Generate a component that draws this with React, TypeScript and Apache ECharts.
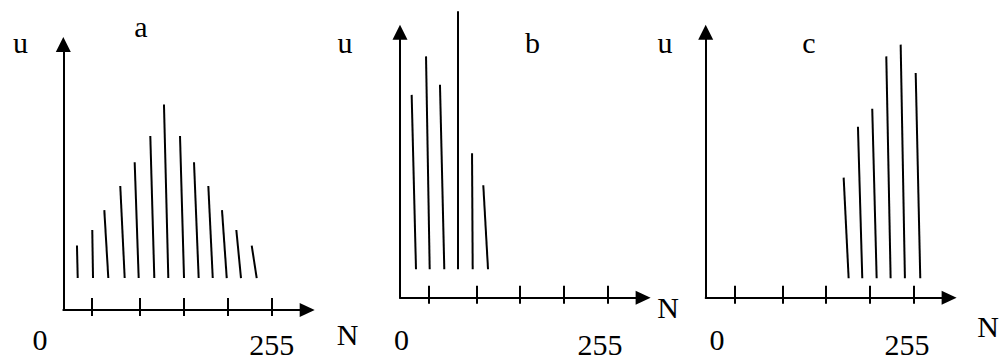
import React, { useEffect, useRef } from "react";
import * as echarts from "echarts";

// Histogram sketches of code value N (0..255) against level u.
// Every stroke runs from a base level up to its peak; the strokes lean slightly,
// so each one keeps its own N at the base and at the peak.

// Panel a: symmetric spread around mid-range
const aNBase = [17.6, 36.3, 55.0, 75.0, 92.1, 111.2, 128.3, 147.5, 165.4, 182.6, 199.7, 217.1, 236.3];
const aNPeak = [16.7, 35.4, 50.1, 69.6, 87.2, 106.3, 123.0, 142.6, 159.7, 177.2, 193.9, 211.4, 230.2];
const aU = [23.6, 29.3, 36.6, 45.4, 54.1, 63.7, 75.3, 63.7, 54.1, 45.4, 36.6, 29.3, 23.6];
const aUBase = 11.7;

// Panel b: crowded at the low end
const bNBase = [19.6, 36.4, 54.3, 71.1, 89.1, 107.9];
const bNPeak = [14.3, 31.9, 49.0, 71.1, 88.3, 102.1];
const bU = [74.3, 88.4, 78.0, 104.9, 52.9, 41.2];
const bUBase = 10.4;

// Panel c: crowded at the high end
const cNBase = [175.0, 191.7, 209.3, 226.4, 243.9, 262.7];
const cNPeak = [168.9, 186.4, 203.9, 221.1, 238.7, 257.1];
const cU = [44.0, 62.6, 69.2, 88.4, 92.7, 82.3];
const cUBase = 7.1;

// Axis scale
const nTicks = [35, 94, 147, 201, 255];
const nTickLabels = ["0", "255"];
const N_MAX = 298;
const U_MAX = 97.25;

const panelNames = ["a", "b", "c"];

// Layout of the three plots (pixels)
const FS = 30;
const FONT = '"Liberation Serif", "Times New Roman", serif';
const grids = [
  { left: 63.3, top: 44.5, width: 243.9, height: 265.5 },
  { left: 400, top: 32.2, width: 243.1, height: 265.5 },
  { left: 705.7, top: 32.2, width: 243.4, height: 265.5 },
];
// [x centre, baseline] for: u, panel name, "0", "255", N
const textSpots = [
  { u: [20.5, 53], name: [141, 36.7], zero: [40, 350], end: [271.7, 354.5], n: [347.5, 345] },
  { u: [345, 53], name: [532.5, 53], zero: [401.5, 350], end: [600, 354.5], n: [668, 318] },
  { u: [665, 53], name: [809, 53], zero: [717, 350], end: [907, 354.5], n: [988, 336.7] },
];

function rows(nBase: number[], nPeak: number[], u: number[], uBase: number) {
  return nBase.map((nb, i) => [nb, nPeak[i], u[i], uBase]);
}

const panels = [
  rows(aNBase, aNPeak, aU, aUBase),
  rows(bNBase, bNPeak, bU, bUBase),
  rows(cNBase, cNPeak, cU, cUBase),
];

function label(text: string, spot: number[]) {
  return {
    type: "text",
    x: spot[0],
    y: spot[1] - 0.3375 * FS,
    silent: true,
    style: {
      text,
      fontFamily: FONT,
      fontSize: FS,
      lineHeight: 22,
      fill: "#000",
      align: "center",
      verticalAlign: "middle",
    },
  };
}

export default function App() {
  const ref = useRef<HTMLDivElement>(null);

  useEffect(() => {
    if (!ref.current) return;
    const chart = echarts.init(ref.current, undefined, { renderer: "svg" });

    const xAxes: any[] = [];
    const yAxes: any[] = [];
    const series: any[] = [];
    const graphic: any[] = [];

    panels.forEach((data, p) => {
      // main N axis: line, arrow head and the upper part of each tick
      xAxes.push({
        type: "value",
        gridIndex: p,
        position: "bottom",
        min: 0,
        max: N_MAX,
        axisLine: {
          show: true,
          onZero: false,
          symbol: ["none", "triangle"],
          symbolSize: [14, 15],
          lineStyle: { color: "#000", width: 2 },
        },
        axisTick: {
          show: true,
          inside: true,
          length: 12,
          customValues: nTicks,
          lineStyle: { color: "#000", width: 2 },
        },
        axisLabel: { show: false },
        splitLine: { show: false },
      });
      // lower part of each tick, below the axis line
      xAxes.push({
        type: "value",
        gridIndex: p,
        position: "bottom",
        min: 0,
        max: N_MAX,
        axisLine: { show: false, onZero: false },
        axisTick: {
          show: true,
          inside: false,
          length: 6,
          customValues: nTicks,
          lineStyle: { color: "#000", width: 2 },
        },
        axisLabel: { show: false },
        splitLine: { show: false },
      });
      yAxes.push({
        type: "value",
        gridIndex: p,
        min: 0,
        max: U_MAX,
        axisLine: {
          show: true,
          onZero: false,
          symbol: ["none", "triangle"],
          symbolSize: [15, 15],
          lineStyle: { color: "#000", width: 2 },
        },
        axisTick: { show: false },
        axisLabel: { show: false },
        splitLine: { show: false },
      });
      series.push({
        type: "custom",
        xAxisIndex: p * 2,
        yAxisIndex: p,
        clip: false,
        data,
        encode: { x: [0, 1], y: [2, 3] },
        renderItem: (_params: any, api: any) => {
          const base = api.coord([api.value(0), api.value(3)]);
          const peak = api.coord([api.value(1), api.value(2)]);
          return {
            type: "line",
            shape: { x1: base[0], y1: base[1], x2: peak[0], y2: peak[1] },
            style: { stroke: "#000", lineWidth: 2, fill: null },
          };
        },
      });

      const s = textSpots[p];
      graphic.push(label("u", s.u));
      graphic.push(label(panelNames[p], s.name));
      graphic.push(label(nTickLabels[0], s.zero));
      graphic.push(label(nTickLabels[1], s.end));
      graphic.push(label("N", s.n));
    });

    chart.setOption({
      animation: false,
      backgroundColor: "#fff",
      grid: grids.map((g) => ({ ...g, containLabel: false })),
      xAxis: xAxes,
      yAxis: yAxes,
      series,
      graphic,
    });

    return () => chart.dispose();
  }, []);

  return (
    <div
      ref={ref}
      style={{ position: "fixed", left: 0, top: 0, width: 1001, height: 361, background: "#fff" }}
    />
  );
}
